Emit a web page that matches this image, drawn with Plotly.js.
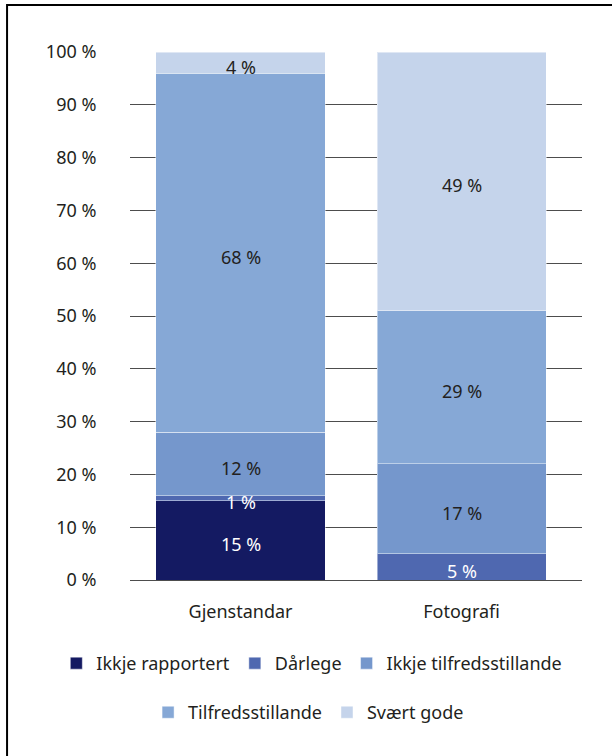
<!DOCTYPE html>
<html>
<head>
<meta charset="utf-8">
<script src="https://cdn.plot.ly/plotly-3.0.1.min.js"></script>
<style>html,body{margin:0;padding:0;background:#fff;}#chart{width:612px;height:756px;}</style>
</head>
<body>
<div id="chart"></div>
<script>
const categories = ["Gjenstandar", "Fotografi"];
const seriesNames = ["Ikkje rapportert", "Dårlege", "Ikkje tilfredsstillande", "Tilfredsstillande", "Svært gode"];
const ikkjeRapportert = [15, 0];
const darlege = [1, 5];
const ikkjeTilfreds = [12, 17];
const tilfreds = [68, 29];
const svaertGode = [4, 49];
const yTickVals = [0, 10, 20, 30, 40, 50, 60, 70, 80, 90, 100];
const yTickText = ["0 %", "10 %", "20 %", "30 %", "40 %", "50 %", "60 %", "70 %", "80 %", "90 %", "100 %"];

const seriesValues = [ikkjeRapportert, darlege, ikkjeTilfreds, tilfreds, svaertGode];
const colors = ["#141a62", "#4f68b0", "#7597cc", "#86a8d6", "#c5d4eb"];
const textColors = ["#ffffff", "#ffffff", "#231f20", "#231f20", "#231f20"];
const legendIds = ["legend", "legend", "legend", "legend2", "legend2"];
const FONT = "Noto Sans, sans-serif";
const FS = 18;

const traces = seriesNames.map((name, i) => ({
  type: "bar",
  name: name,
  x: categories,
  y: seriesValues[i],
  textposition: "none",
  marker: {color: colors[i], line: {color: "rgba(255,255,255,0.45)", width: 1}},
  legend: legendIds[i],
  hoverinfo: "skip"
}));

// value labels placed at the middle of each stacked segment (data coordinates)
const annotations = [];
categories.forEach((cat, c) => {
  let base = 0;
  seriesValues.forEach((vals, i) => {
    const v = vals[c];
    if (v > 0) {
      annotations.push({
        x: cat, y: base + v / 2, xref: "x", yref: "y",
        text: v + " %", showarrow: false, yshift: -4,
        font: {family: FONT, size: FS, color: textColors[i]}
      });
    }
    base += v;
  });
});

const layout = {
  width: 612, height: 756,
  margin: {l: 130, r: 30, t: 52, b: 176},
  paper_bgcolor: "#ffffff", plot_bgcolor: "#ffffff",
  barmode: "stack",
  bargap: 0.235,
  font: {family: FONT, size: FS, color: "#231f20"},
  xaxis: {
    type: "category",
    range: [-0.5, 1.545],
    showgrid: false, showline: false, zeroline: false,
    ticks: "outside", ticklen: 15, tickcolor: "rgba(0,0,0,0)",
    tickfont: {family: FONT, size: FS, color: "#231f20"}
  },
  yaxis: {
    range: [0, 100],
    tickvals: yTickVals, ticktext: yTickText,
    showgrid: true, gridcolor: "#4d4d4d", gridwidth: 1,
    zeroline: true, zerolinecolor: "#4d4d4d", zerolinewidth: 1,
    showline: false,
    ticks: "outside", ticklen: 29, tickcolor: "rgba(0,0,0,0)",
    tickfont: {family: FONT, size: FS, color: "#231f20"}
  },
  legend: {
    orientation: "h", x: -0.163, xanchor: "left", y: -0.123, yanchor: "top",
    font: {family: FONT, size: FS, color: "#231f20"}, traceorder: "normal",
    itemclick: false
  },
  legend2: {
    orientation: "h", x: 0.04, xanchor: "left", y: -0.216, yanchor: "top",
    font: {family: FONT, size: FS, color: "#231f20"}, traceorder: "normal",
    itemclick: false
  },
  annotations: annotations,
  shapes: [{
    type: "rect", xref: "paper", yref: "paper",
    x0: -0.272, x1: 1.3, y0: 1.089, y1: -0.6,
    line: {color: "#000000", width: 2}, fillcolor: "rgba(0,0,0,0)", layer: "above"
  }],
  showlegend: true
};

Plotly.newPlot("chart", traces, layout, {displayModeBar: false, staticPlot: true});
</script>
</body>
</html>
